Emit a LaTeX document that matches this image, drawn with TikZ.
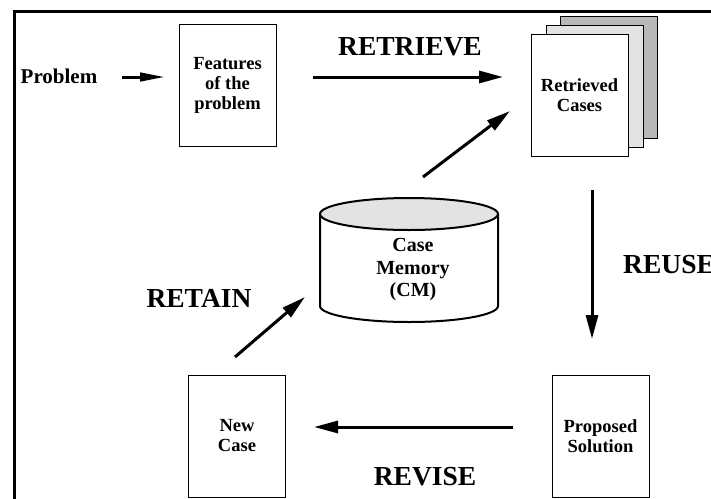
\documentclass[tikz,border=0pt]{standalone}
\usepackage{fontspec}
\setmainfont{Liberation Serif}
\usetikzlibrary{arrows.meta}
\tikzset{
  box/.style={draw=black, line width=1pt, fill=white, rectangle, inner sep=0pt,
    minimum width=97pt, minimum height=122pt, align=center,
    font=\bfseries\fontsize{18.5}{20}\selectfont},
  page/.style={draw=black, line width=1pt, rectangle, inner sep=0pt,
    minimum width=97pt, minimum height=122pt},
  lbl/.style={inner sep=0pt, font=\bfseries\fontsize{27.5}{30}\selectfont},
  txt/.style={inner sep=0pt, align=center},
  arr/.style={line width=3pt, -{Triangle[length=24pt,width=12pt]}},
  thinarr/.style={line width=3pt, -{Triangle[length=25pt,width=8.5pt]}},
}
\begin{document}
\begin{tikzpicture}[x=1pt,y=-1pt]
\useasboundingbox (0,0) rectangle (711,498);
% frame
\draw[line width=3pt] (14,505) -- (14,11.5) -- (720,11.5);

% nodes
\node[txt, font=\bfseries\fontsize{21}{24}\selectfont] (prob) at (59,76) {Problem};
\node[box] (feat) at (227.5,85) {Features\\of the\\problem};

\node[page, fill=gray!55] (ret3) at (608.5,77) {};
\node[page, fill=gray!22] (ret2) at (594.5,86) {};
\node[box] (ret) at (579.5,95.5) {Retrieved\\Cases};

% cylinder
\node[minimum width=178pt, minimum height=124pt, inner sep=0pt] (cm) at (409,260) {};
\draw[line width=2pt, fill=white] (320,214) -- (320,306) arc[start angle=180, end angle=360, x radius=89, y radius=-16] -- (498,214);
\draw[line width=2pt, fill=gray!22] (409,214) ellipse[x radius=89, y radius=16];
\node[txt, font=\bfseries\fontsize{20}{22.5}\selectfont] (cmtext) at (413,270) {Case\\Memory\\(CM)};

\node[box] (sol) at (600.5,436) {Proposed\\Solution};
\node[box] (new) at (237,436) {New\\Case};

% labels
\node[lbl] (lretrieve) at (410,47) {RETRIEVE};
\node[lbl, anchor=west] (lreuse) at (623,265) {REUSE};
\node[lbl] (lretain) at (199,298) {RETAIN};
\node[lbl] (lrevise) at (425,477) {REVISE};

% arrow end points
\coordinate (p1) at (122,77);
\coordinate (p2) at (165,77);
\coordinate (r1) at (313,77);
\coordinate (r2) at (503,77);
\coordinate (c1) at (423,177);
\coordinate (c2) at (510,111);
\coordinate (u1) at (592,190);
\coordinate (u2) at (592,339);
\coordinate (v1) at (513,427);
\coordinate (v2) at (314,427);
\coordinate (t1) at (235,357);
\coordinate (t2) at (305,297);

\draw[thinarr] (p1) -- (p2);
\draw[arr] (r1) -- (r2);
\draw[arr] (c1) -- (c2);
\draw[arr] (u1) -- (u2);
\draw[arr] (v1) -- (v2);
\draw[arr] (t1) -- (t2);
\end{tikzpicture}
\end{document}
